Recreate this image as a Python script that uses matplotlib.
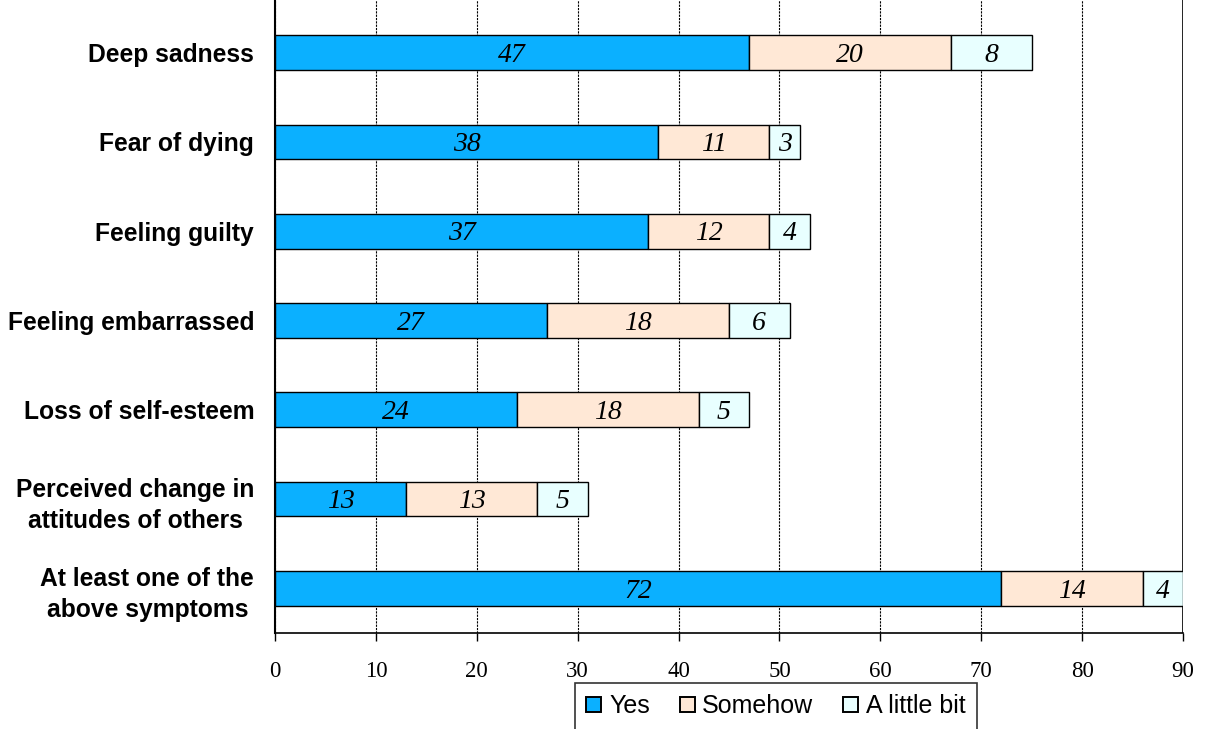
import matplotlib
matplotlib.use('Agg')
import matplotlib.pyplot as plt
from matplotlib.patches import Patch

CATEGORIES = ['Deep sadness', 'Fear of dying', 'Feeling guilty', 'Feeling embarrassed',
              'Loss of self-esteem', 'Perceived change in\nattitudes of others',
              'At least one of the\nabove symptoms']
YES = [47, 38, 37, 27, 24, 13, 72]
SOMEHOW = [20, 11, 12, 18, 18, 13, 14]
LITTLE = [8, 3, 4, 6, 5, 5, 4]
SERIES_NAMES = ['Yes', 'Somehow', 'A little bit']
COLORS = ['#0BB0FF', '#FFE8D6', '#E8FFFF']

fig = plt.figure(figsize=(12.1, 7.29), dpi=100)
ax = fig.add_axes([275 / 1210, 96 / 729, 908 / 1210, 633 / 729])

y = list(range(len(CATEGORIES)))
left = [0] * len(CATEGORIES)
for vals, color in zip([YES, SOMEHOW, LITTLE], COLORS):
    ax.barh(y, vals, left=left, height=0.39, color=color,
            edgecolor='black', linewidth=1.0, zorder=3)
    for yi, l, v in zip(y, left, vals):
        ax.text(l + v / 2, yi + 0.03, str(v), ha='center', va='center',
                fontsize=20, style='italic', family='Liberation Serif', zorder=4)
    left = [a + b for a, b in zip(left, vals)]

ax.set_xlim(0, 90)
ax.set_ylim(6.5, -0.59)
ax.set_xticks(range(0, 91, 10))
ax.set_yticks(y)
ax.set_yticklabels(CATEGORIES, fontsize=17.7, fontweight='bold', family='Liberation Sans',
                   multialignment='center', linespacing=1.4)
ax.tick_params(axis='y', length=0, pad=15)
ax.tick_params(axis='x', direction='out', length=6, width=1, pad=14,
               labelsize=16.5, labelfontfamily='Liberation Serif')
ax.xaxis.grid(True, color='black', linestyle=(0, (2, 1)), linewidth=0.8, zorder=0)
ax.axvline(90, color='black', linewidth=1.2, zorder=2)
for s in ['top', 'right']:
    ax.spines[s].set_visible(False)
ax.spines['left'].set_linewidth(1.5)
ax.spines['bottom'].set_linewidth(1.2)

handles = [Patch(facecolor=c, edgecolor='black', linewidth=1.4) for c in COLORS]
leg = fig.legend(handles, SERIES_NAMES, loc='upper center', bbox_to_anchor=(776 / 1210, 46 / 729),
                 ncol=3, frameon=True, fancybox=False, edgecolor='black',
                 prop={'family': 'Liberation Sans', 'size': 18},
                 handlelength=0.6, handleheight=0.6, handletextpad=0.3, columnspacing=1.2,
                 borderpad=0.45, borderaxespad=0)
leg.get_frame().set_linewidth(1.2)

fig.savefig('out.png', dpi=100)
